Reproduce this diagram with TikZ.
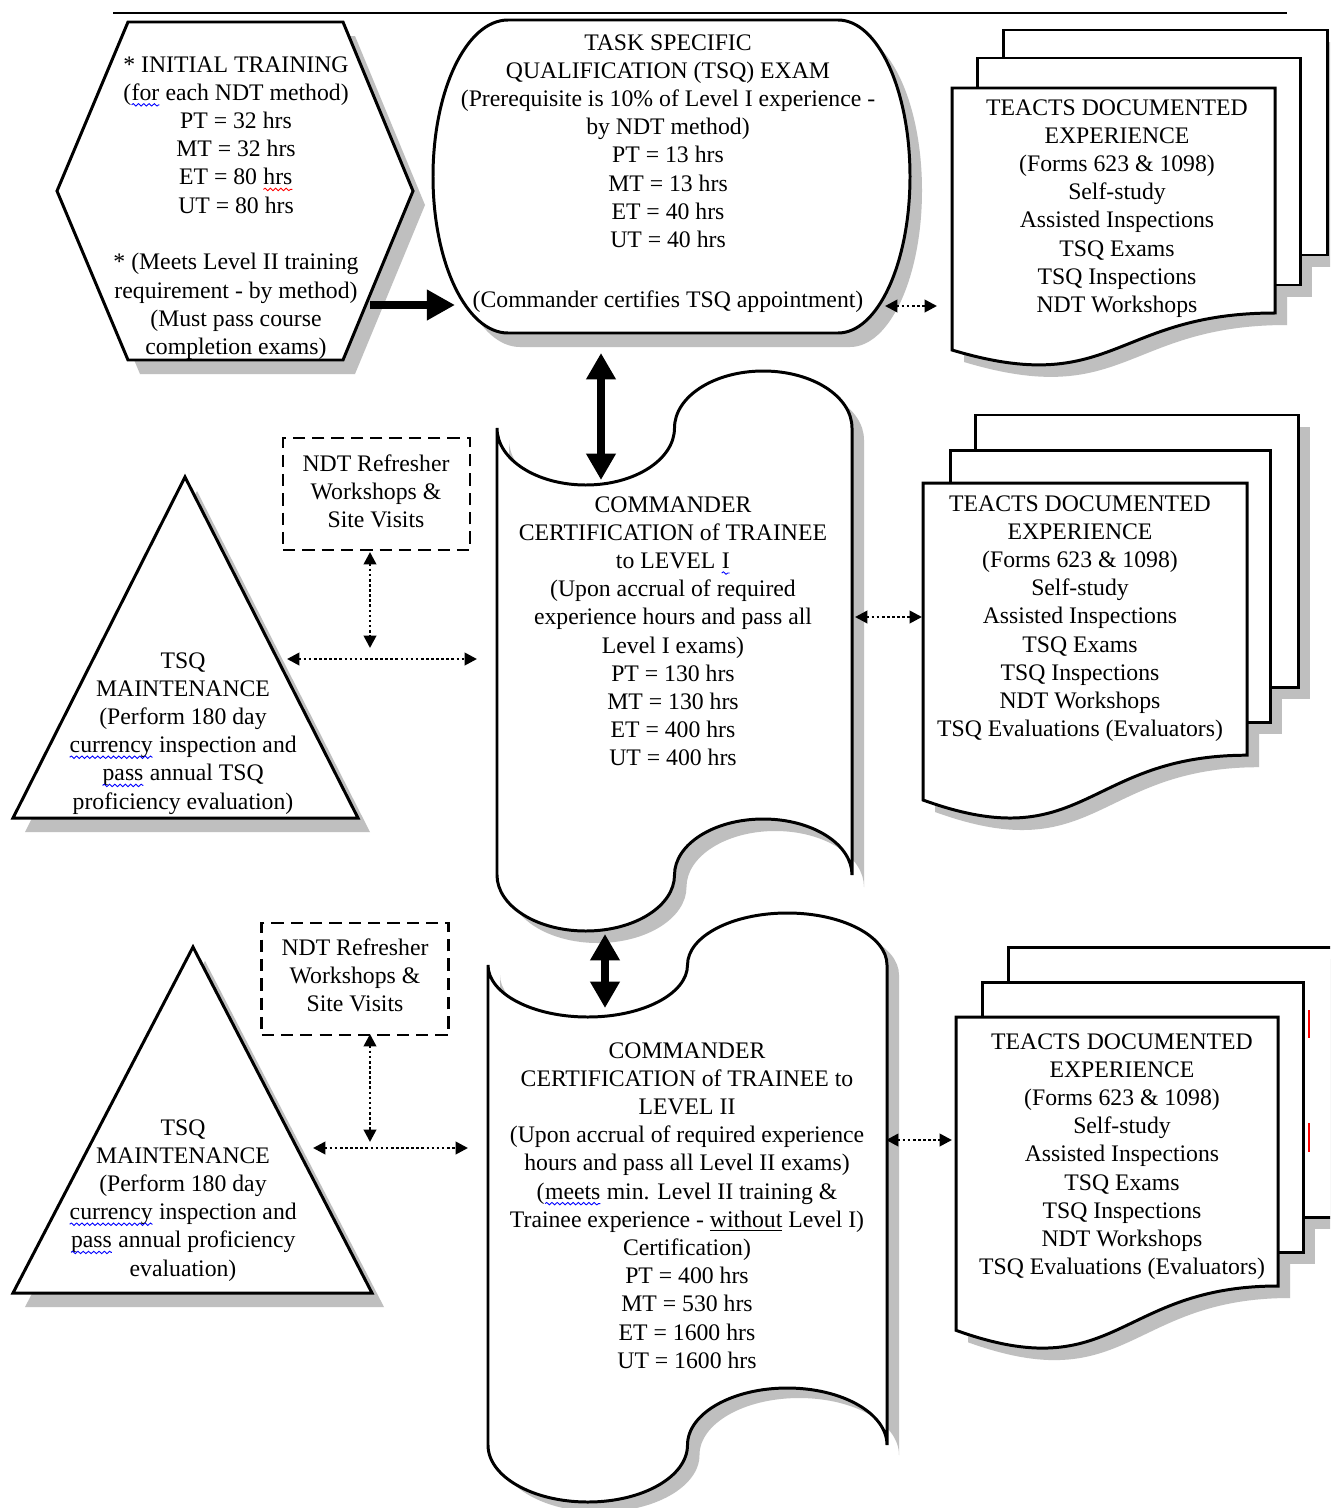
\documentclass[tikz,border=0pt]{standalone}
\usepackage{fontspec}
\setmainfont{Liberation Serif}
\usetikzlibrary{arrows.meta,decorations.pathmorphing}
\definecolor{shd}{HTML}{BFBFBF}
\newcommand\squig[2]{\tikz[baseline=(w.base)]{\node[inner sep=0pt,outer sep=0pt,anchor=base](w){#2};\draw[#1,line width=0.5pt,dash pattern=,decorate,decoration={snake,amplitude=0.7pt,segment length=3pt}] ([yshift=-2.6pt]w.base west) -- ([yshift=-2.6pt]w.base east);}}
\newcommand\bsq[1]{\squig{blue}{#1}}
\newcommand\rsq[1]{\squig{red}{#1}}
\tikzset{
  hexp/.pic={\path[pic actions] (128,22) -- (343,22) -- (413,191) -- (343,360) -- (128,360) -- (57,191) -- cycle;},
  tsqp/.pic={\path[pic actions] (508,20) -- (838,20) .. controls (877.8,20) and (910,90.1) .. (910,176.5) .. controls (910,262.9) and (877.8,333) .. (838,333) -- (508,333) .. controls (466.6,333) and (433,262.9) .. (433,176.5) .. controls (433,90.1) and (466.6,20) .. (508,20) -- cycle;},
  tapeIp/.pic={\path[pic actions] (497,428) .. controls (497,459.5) and (536.75,485) .. (585.75,485) .. controls (634.75,485) and (674.5,459.5) .. (674.5,428) .. controls (674.5,396.5) and (714.25,371) .. (763.25,371) .. controls (812.25,371) and (852,396.5) .. (852,428) -- (852,875) .. controls (852,844.1) and (812.25,819) .. (763.25,819) .. controls (714.25,819) and (674.5,844.1) .. (674.5,875) .. controls (674.5,905.9) and (634.75,931) .. (585.75,931) .. controls (536.75,931) and (497,905.9) .. (497,875) -- cycle;},
  tapeIIp/.pic={\path[pic actions] (488,965) .. controls (488,993.7) and (532.65,1017) .. (587.75,1017) .. controls (642.85,1017) and (687.5,993.7) .. (687.5,965) .. controls (687.5,936.3) and (732.15,913) .. (787.25,913) .. controls (842.35,913) and (887,936.3) .. (887,965) -- (887,1445) .. controls (887,1413.5) and (842.35,1388) .. (787.25,1388) .. controls (732.15,1388) and (687.5,1413.5) .. (687.5,1445) .. controls (687.5,1476.5) and (642.85,1502) .. (587.75,1502) .. controls (532.65,1502) and (488,1476.5) .. (488,1445) -- cycle;},
  triIp/.pic={\path[pic actions] (185,477) -- (358,818) -- (13,818) -- cycle;},
  triIIp/.pic={\path[pic actions] (193,947) -- (372,1293) -- (13,1293) -- cycle;},
  docIback/.pic={\path[pic actions] (1003,30) rectangle (1327,255);},
  docImid/.pic={\path[pic actions] (977,58) rectangle (1300,285);},
  docIfront/.pic={\path[pic actions] (952,88) -- (1275,88) -- (1275,313) .. controls (1113.5,313) and (1113.5,398.5) .. (952,350) -- cycle;},
  docIIback/.pic={\path[pic actions] (975,415) rectangle (1298,687);},
  docIImid/.pic={\path[pic actions] (950,450) rectangle (1270,722);},
  docIIfront/.pic={\path[pic actions] (923,483) -- (1247,483) -- (1247,755.2) .. controls (1085,755.2) and (1085,858.7) .. (923,800) -- cycle;},
  docIIIback/.pic={\path[pic actions] (1008,947) rectangle (1345,1217);},
  docIIImid/.pic={\path[pic actions] (982,982) rectangle (1303,1252);},
  docIIIfront/.pic={\path[pic actions] (956,1017) -- (1278,1017) -- (1278,1286) .. controls (1117,1286) and (1117,1388.3) .. (956,1330.3) -- cycle;}
}
\begin{document}
\begin{tikzpicture}[x=0.02cm,y=-0.02cm,
  shp/.style={draw=black,line width=1.7pt,fill=white},
  shdw/.style={fill=shd,draw=none},
  txt/.style={align=center,inner sep=0pt,anchor=north,font=\fontsize{13.5}{16.05}\selectfont,execute at begin node=\strut},
  bigarr/.style={line width=4.5pt,-{Triangle[length=16pt,width=16.5pt]}},
  bigdbl/.style={line width=4.5pt,{Triangle[length=15pt,width=16pt]}-{Triangle[length=15pt,width=16pt]}},
  dotarr/.style={line width=1.5pt,dash pattern=on 1.5pt off 1.4pt,{Triangle[length=7pt,width=7pt]}-{Triangle[length=7pt,width=7pt]}},
  dbox/.style={draw,line width=1.6pt,dash pattern=on 7pt off 4pt,minimum width=3.74cm,minimum height=2.24cm,inner sep=0pt}
]
\useasboundingbox (0,0) rectangle (1330,1508);
\fill[white] (0,0) rectangle (1330,1508);
\clip (0,0) rectangle (1330,1508);
\draw[line width=1.1pt] (113,13) -- (1287,13);
% shadows
\pic[shdw] at (12,14) {hexp};
\pic[shdw] at (12,14) {tsqp};
\pic[shdw] at (12,12) {tapeIp};
\pic[shdw] at (12,10) {tapeIIp};
\pic[shdw] at (12,14) {triIp};
\pic[shdw] at (12,14) {triIIp};
\foreach \p in {docIback,docImid,docIfront,docIIback,docIImid,docIIfront,docIIIback,docIIImid,docIIIfront}{\pic[shdw] at (12,12) {\p};}
% shapes
\pic[shp] at (0,0) {hexp};
\pic[shp] at (0,0) {tsqp};
\pic[shp] at (0,0) {tapeIp};
\pic[shp] at (0,0) {tapeIIp};
\pic[shp] at (0,0) {triIp};
\pic[shp] at (0,0) {triIIp};
\foreach \p in {docIback,docImid,docIfront,docIIback,docIImid,docIIfront,docIIIback,docIIImid,docIIIfront}{\pic[shp] at (0,0) {\p};}
\draw[red,line width=0.6pt] (1309,1010) -- (1309,1038) (1309,1123) -- (1309,1152);
% texts
\node[txt] (hex) at (236,56) {* INITIAL TRAINING\\(\bsq{for} each NDT method)\\PT = 32 hrs\\MT = 32 hrs\\ET = 80 \rsq{hrs}\\UT = 80 hrs\\[16.3pt]* (Meets Level II training\\requirement - by method)\\(Must pass course\\completion exams)};
\node[txt] (tsq) at (668,34) {TASK SPECIFIC\\QUALIFICATION (TSQ) EXAM\\(Prerequisite is 10\% of Level I experience -\\by NDT method)\\PT = 13 hrs\\MT = 13 hrs\\ET = 40 hrs\\UT = 40 hrs\\[18pt](Commander certifies TSQ appointment)};
\node[txt] (teactsI) at (1117,99) {TEACTS DOCUMENTED\\EXPERIENCE\\(Forms 623 \& 1098)\\Self-study\\Assisted Inspections\\TSQ Exams\\TSQ Inspections\\NDT Workshops};
\node[txt] (levI) at (673,496) {COMMANDER\\CERTIFICATION of TRAINEE\\to LEVEL \bsq{I}\\(Upon accrual of required\\experience hours and pass all\\Level I exams)\\PT = 130 hrs\\MT = 130 hrs\\ET = 400 hrs\\UT = 400 hrs};
\node[txt] (teactsII) at (1080,495) {TEACTS DOCUMENTED\\EXPERIENCE\\(Forms 623 \& 1098)\\Self-study\\Assisted Inspections\\TSQ Exams\\TSQ Inspections\\NDT Workshops\\TSQ Evaluations (Evaluators)};
\node[txt] (triI) at (183,652) {TSQ\\MAINTENANCE\\(Perform 180 day\\\bsq{currency} inspection and\\\bsq{pass} annual TSQ\\proficiency evaluation)};
\node[txt] (levII) at (687,1042) {COMMANDER\\CERTIFICATION of TRAINEE to\\LEVEL II\\(Upon accrual of required experience\\hours and pass all Level II exams)\\(\bsq{meets} min. Level II training \&\\Trainee experience - \underline{without} Level I)\\Certification)\\PT = 400 hrs\\MT = 530 hrs\\ET = 1600 hrs\\UT = 1600 hrs};
\node[txt] (teactsIII) at (1122,1033) {TEACTS DOCUMENTED\\EXPERIENCE\\(Forms 623 \& 1098)\\Self-study\\Assisted Inspections\\TSQ Exams\\TSQ Inspections\\NDT Workshops\\TSQ Evaluations (Evaluators)};
\node[txt] (triII) at (183,1119) {TSQ\\MAINTENANCE\\(Perform 180 day\\\bsq{currency} inspection and\\\bsq{pass} annual proficiency\\evaluation)};
\node[dbox] (boxI) at (376.5,494) {};
\node[txt] (boxItext) at (376,454) {NDT Refresher\\Workshops \&\\Site Visits};
\node[dbox] (boxII) at (355,979) {};
\node[txt] (boxIItext) at (355,938) {NDT Refresher\\Workshops \&\\Site Visits};
% connector end points
\coordinate (hexR) at (370,305); \coordinate (tsqL) at (455,305);
\coordinate (tsqB) at (601,353); \coordinate (levIT) at (601,480);
\coordinate (levIB) at (605,934); \coordinate (levIIT) at (605,1008);
\coordinate (tsqR) at (885,306); \coordinate (docIL) at (937,306);
\coordinate (levIR) at (855,617); \coordinate (docIIL) at (922,617);
\coordinate (levIIR) at (886,1140); \coordinate (docIIIL) at (952,1140);
\coordinate (triIR) at (287,659); \coordinate (levIL) at (477,659);
\coordinate (boxIB) at (370,552); \coordinate (jI) at (370,648);
\coordinate (triIIR) at (313,1148); \coordinate (levIIL) at (468,1148);
\coordinate (boxIIB) at (370,1034); \coordinate (jII) at (370,1142);
% connectors
\draw[bigarr] (hexR) -- (tsqL);
\draw[bigdbl] (tsqB) -- (levIT);
\draw[bigdbl] (levIB) -- (levIIT);
\draw[dotarr] (tsqR) -- (docIL);
\draw[dotarr] (levIR) -- (docIIL);
\draw[dotarr] (levIIR) -- (docIIIL);
\draw[dotarr] (triIR) -- (levIL);
\draw[dotarr] (boxIB) -- (jI);
\draw[dotarr] (triIIR) -- (levIIL);
\draw[dotarr] (boxIIB) -- (jII);
\end{tikzpicture}
\end{document}
